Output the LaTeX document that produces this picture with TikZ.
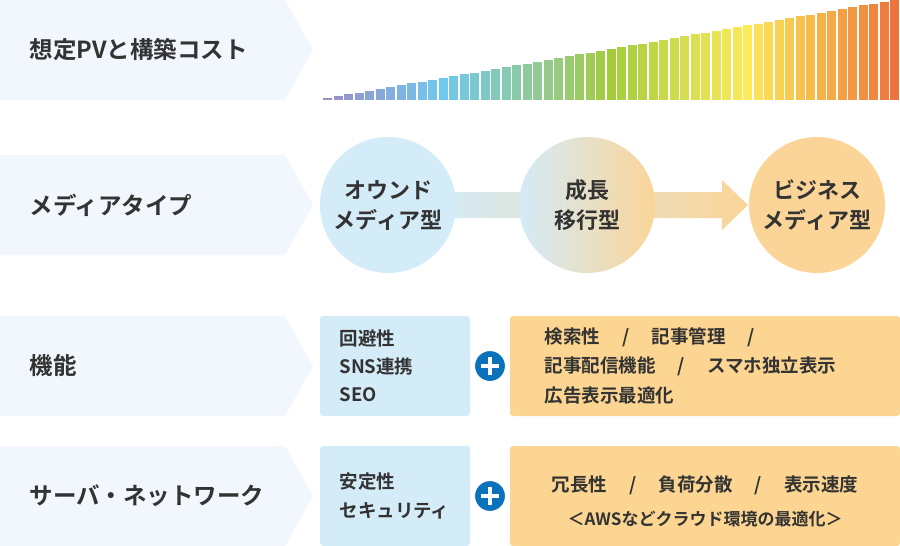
\documentclass[tikz,border=0pt]{standalone}
\usepackage{fontspec}
\setmainfont{Noto Sans CJK JP}[BoldFont={* Bold}]
\newfontfamily\cjkb{Noto Sans CJK JP Bold}
\begin{document}
\begin{tikzpicture}[x=1pt,y=-1pt,
  lbl/.style={anchor=west,font=\cjkb\fontsize{23.5}{26}\selectfont,text=txt},
  ctext/.style={align=center,font=\cjkb\fontsize{22}{30}\selectfont,text=txt},
  btext/.style={anchor=west,font=\cjkb\fontsize{18.5}{22}\selectfont,text=txt},
  stext/.style={font=\cjkb\fontsize{17}{20}\selectfont,text=txt},
  bluebox/.style={fill=boxblue,rounded corners=3pt},
  orbox/.style={fill=boxor,rounded corners=3pt},
  plus/.style={circle,fill=plusblue,draw=white,line width=2pt,minimum size=32pt,inner sep=0pt}]
\definecolor{bandbg}{HTML}{F1F7FC}
\definecolor{txt}{HTML}{333333}
\definecolor{boxblue}{HTML}{D4EBF8}
\definecolor{boxor}{HTML}{FBD591}
\definecolor{circor}{HTML}{FAD597}
\definecolor{plusblue}{HTML}{0A72BA}
\definecolor{g0}{HTML}{9A8FC8}
\definecolor{g1}{HTML}{6FC8EF}
\definecolor{g2}{HTML}{98CB80}
\definecolor{g3}{HTML}{A3CC3C}
\definecolor{g4}{HTML}{D4DE50}
\definecolor{g5}{HTML}{FBEA5A}
\definecolor{g6}{HTML}{F6B34A}
\definecolor{g7}{HTML}{EC6B3A}
\useasboundingbox (0,0) rectangle (900,546);
% bands
\foreach \t in {0,155,316,446}{
  \fill[bandbg] (0,\t) -- (285,\t) -- (313,\t+50) -- (285,\t+100) -- (0,\t+100) -- cycle;
}
\node[lbl] (l1) at (26,50) {想定PVと構築コスト};
\node[lbl] (l2) at (26,205) {メディアタイプ};
\node[lbl] (l3) at (26,366) {機能};
\node[lbl] (l4) at (26,496) {サーバ・ネットワーク};
% bars
\foreach \a/\b/\ca/\cb in {0/11/g0/g1,11/22/g1/g2,22/27/g2/g3,27/34/g3/g4,34/40/g4/g5,40/47/g5/g6,47/55/g6/g7}{
  \pgfmathtruncatemacro\e{\b-1}
  \foreach \i in {\a,...,\e}{
    \pgfmathsetmacro\p{100-100*(\i-\a)/(\b-\a)}
    \pgfmathsetmacro\xl{323+\i*10.5}
    \pgfmathsetmacro\h{2+98*\i/54}
    \fill[\ca!\p!\cb] (\xl,100) rectangle (\xl+9,100-\h);
  }
}
% arrow band
\shade[left color=boxblue,right color=circor] (440,192) -- (722,192) -- (722,180) -- (748,205) -- (722,230) -- (722,218) -- (440,218) -- cycle;
\node[circle,fill=boxblue,minimum size=136pt,inner sep=0pt] (c1) at (388,205) {};
\node[circle,left color=boxblue,right color=circor,minimum size=136pt,inner sep=0pt] (c2) at (587,205) {};
\node[circle,fill=circor,minimum size=136pt,inner sep=0pt] (c3) at (817,205) {};
\node[ctext] at (c1) {オウンド\\メディア型};
\node[ctext] at (c2) {成長\\移行型};
\node[ctext] at (c3) {ビジネス\\メディア型};
% row 3
\fill[bluebox] (320,316) rectangle (470,416);
\fill[orbox] (510,316) rectangle (900,416);
\node[btext] at (336,338) {回避性};
\node[btext] at (336,366) {SNS連携};
\node[btext] at (336,395) {SEO};
\node[btext] at (541,337) {検索性\hspace{1.2em}/\hspace{1.2em}記事管理\hspace{1.2em}/};
\node[btext] at (541,366) {記事配信機能\hspace{1.2em}/\hspace{1.2em}スマホ独立表示};
\node[btext] at (541,395) {広告表示最適化};
\node[plus] (p1) at (490,366) {};
\draw[white,line width=3.5pt] ([xshift=-9pt]p1.center) -- ([xshift=9pt]p1.center) ([yshift=-9pt]p1.center) -- ([yshift=9pt]p1.center);
% row 4
\fill[bluebox] (320,446) rectangle (470,546);
\fill[orbox] (510,446) rectangle (900,546);
\node[btext] at (336,482) {安定性};
\node[btext] at (336,511) {セキュリティ};
\node[btext,anchor=center] at (705,485) {冗長性\hspace{1.2em}/\hspace{1.2em}負荷分散\hspace{1.2em}/\hspace{1.2em}表示速度};
\node[stext] at (705,519) {＜AWSなどクラウド環境の最適化＞};
\node[plus] (p2) at (490,496) {};
\draw[white,line width=3.5pt] ([xshift=-9pt]p2.center) -- ([xshift=9pt]p2.center) ([yshift=-9pt]p2.center) -- ([yshift=9pt]p2.center);
\end{tikzpicture}
\end{document}
